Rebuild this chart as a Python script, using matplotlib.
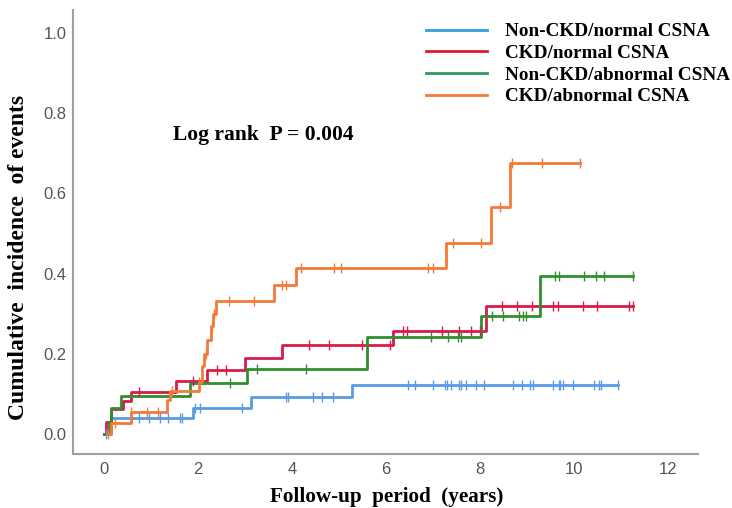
import numpy as np
import matplotlib
matplotlib.use('Agg')
import matplotlib.pyplot as plt
from matplotlib.lines import Line2D

# Kaplan-Meier style cumulative incidence
labels = ['Non-CKD/normal CSNA', 'CKD/normal CSNA', 'Non-CKD/abnormal CSNA', 'CKD/abnormal CSNA']
colors = ['#5a9be6', '#d81b4a', '#2f8f2f', '#f47a3a']
legend_colors = ['#2ea3d6', '#d81b2a', '#2f9a5a', '#f47a3a']

# event times / cumulative incidence after the event
blue_t = [0.0, 0.15, 1.9, 3.12, 5.28]
blue_y = [0.0, 0.04, 0.065, 0.092, 0.122]
blue_end = 10.94
blue_cens = [0.05, 0.75, 0.96, 1.19, 1.36, 1.62, 1.66, 1.94, 2.04, 2.94, 3.87, 3.91, 4.45, 4.63,
             4.87, 6.47, 6.62, 7.0, 7.26, 7.3, 7.38, 7.55, 7.6, 7.7, 7.91, 8.09, 8.7, 8.89, 9.06,
             9.13, 9.55, 9.68, 9.7, 9.77, 9.98, 10.43, 10.53, 10.57, 10.94]

red_t = [0.0, 0.04, 0.15, 0.4, 0.57, 1.53, 2.19, 3.0, 3.78, 6.15, 8.13]
red_y = [0.0, 0.03, 0.062, 0.082, 0.105, 0.133, 0.16, 0.19, 0.222, 0.257, 0.32]
red_end = 11.25
red_cens = [0.75, 1.9, 2.4, 2.6, 4.37, 4.79, 5.49, 6.08, 6.37, 6.44, 7.2, 7.55, 7.8, 8.0,
            8.47, 8.78, 9.1, 9.55, 9.66, 10.2, 10.48, 11.17, 11.25]

green_t = [0.0, 0.1, 0.15, 0.36, 1.82, 3.04, 5.6, 8.02, 9.28]
green_y = [0.0, 0.03, 0.065, 0.095, 0.127, 0.162, 0.243, 0.295, 0.393]
green_end = 11.25
green_cens = [2.68, 3.26, 4.3, 6.96, 7.32, 7.53, 7.6, 8.26, 8.49, 8.83, 8.91, 8.98,
              9.6, 9.68, 10.21, 10.47, 10.64, 11.25]

orange_t = [0.09, 0.15, 0.57, 1.34, 1.4, 2.02, 2.08, 2.13, 2.2, 2.27, 2.32, 2.38, 3.62, 4.08,
            7.28, 8.23, 8.64]
orange_y = [0.0, 0.027, 0.055, 0.085, 0.108, 0.13, 0.17, 0.2, 0.235, 0.27, 0.3, 0.333, 0.372,
            0.413, 0.477, 0.565, 0.675]
orange_end = 10.13
orange_cens = [0.09, 0.24, 0.57, 0.91, 1.15, 1.45, 2.02, 2.17, 2.3, 2.35, 2.66, 3.2, 3.78, 3.87,
               4.2, 4.9, 5.05, 6.9, 7.0, 7.43, 8.02, 8.43, 8.68, 9.32, 10.13]

series = [(blue_t, blue_y, blue_end, blue_cens),
          (red_t, red_y, red_end, red_cens),
          (green_t, green_y, green_end, green_cens),
          (orange_t, orange_y, orange_end, orange_cens)]

fig = plt.figure(figsize=(7.32, 5.08), dpi=100)
ax = fig.add_axes([0.0997, 0.106, 0.854, 0.874])

for (t, y, end, cens), c in zip(series, colors):
    tt = list(t) + [end]
    yy = list(y) + [y[-1]]
    ax.step(tt, yy, where='post', color=c, lw=2.0, zorder=3)
    cy = [y[np.searchsorted(t, ct, side='right') - 1] for ct in cens]
    ax.plot(cens, cy, ls='none', marker='|', ms=7, mew=1.0, color=c, zorder=4)

ax.set_xlim(-0.66, 12.64)
ax.set_ylim(-0.05, 1.057)
ax.set_xticks([0, 2, 4, 6, 8, 10, 12])
ax.set_yticks([0.0, 0.2, 0.4, 0.6, 0.8, 1.0])
ax.set_yticklabels(['0.0', '0.2', '0.4', '0.6', '0.8', '1.0'])
ax.tick_params(length=0, labelsize=12, labelcolor='#555555')
ax.tick_params(axis='x', pad=6)
ax.tick_params(axis='y', pad=4.5)
for lab in ax.get_xticklabels() + ax.get_yticklabels():
    lab.set_fontfamily('Liberation Sans')
ax.spines['top'].set_visible(False)
ax.spines['right'].set_visible(False)
for s in ['left', 'bottom']:
    ax.spines[s].set_color('#a0a0a0')
    ax.spines[s].set_linewidth(1.5)

serif = dict(family='Liberation Serif', weight='bold')
fig.text(387 / 732, 1 - 497 / 508, 'Follow-up  period  (years)', fontsize=15.2,
         ha='center', va='center', **serif)
fig.text(19 / 732, 1 - 257 / 508, 'Cumulative  incidence  of events', fontsize=17,
         rotation=90, ha='center', va='center', **serif)

ax.text(1.47, 0.746, 'Log rank  P = 0.004', fontsize=15.5, va='center', ha='left', **serif)

handles = [Line2D([0], [0], color=c, lw=2) for c in legend_colors]
leg = ax.legend(handles, labels, loc='upper left', bbox_to_anchor=(0.537, 1.01), frameon=False,
                handlelength=3.18, handletextpad=0.94, labelspacing=0.22,
                prop={'family': 'Liberation Serif', 'weight': 'bold', 'size': 13.8})

fig.savefig('out.png', dpi=100)
